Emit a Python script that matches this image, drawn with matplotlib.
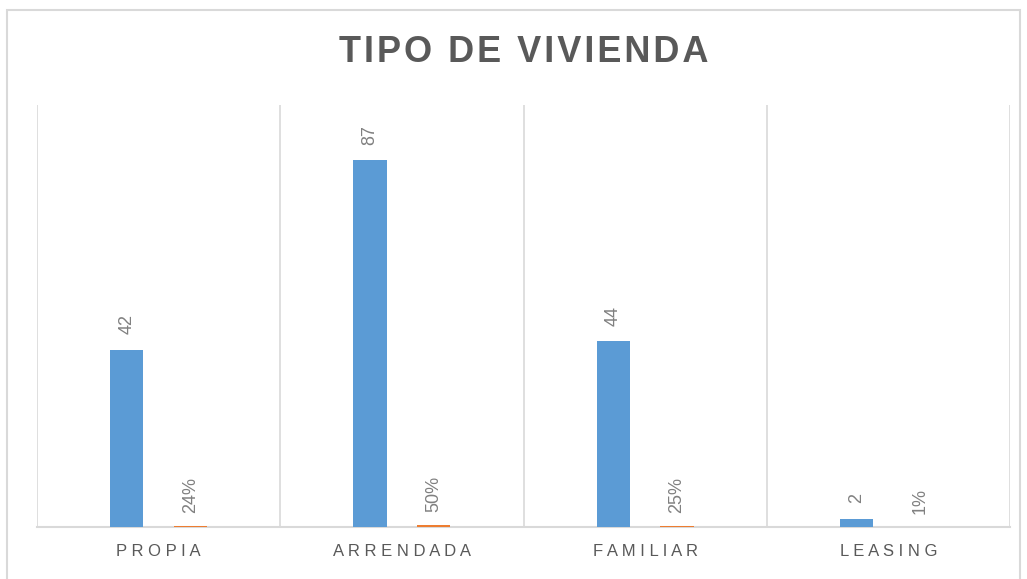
import numpy as np
import matplotlib.pyplot as plt
from matplotlib.patches import Rectangle

categorias = ["PROPIA", "ARRENDADA", "FAMILIAR", "LEASING"]
cantidad = [42, 87, 44, 2]
porcentaje = [0.24, 0.50, 0.25, 0.01]
etiquetas_pct = ["24%", "50%", "25%", "1%"]

AZUL = "#5B9BD5"
NARANJA = "#ED7D31"
GRIS_TEXTO = "#595959"
GRIS_VALOR = "#808080"
GRIS_LINEA = "#D9D9D9"

plt.rcParams['font.family'] = ['Liberation Sans', 'DejaVu Sans']


def espaciar(texto, sep=" "):
    return sep.join(texto)


fig = plt.figure(figsize=(10.27, 5.79), dpi=100)
fig.patches.append(Rectangle((7 / 1027, -0.01), (1020 - 7) / 1027, 1 - 10 / 579 + 0.01,
                             transform=fig.transFigure, fill=False,
                             edgecolor=GRIS_LINEA, linewidth=1.5))

ax = fig.add_axes([37 / 1027, 52 / 579, (1010 - 37) / 1027, (527 - 105) / 579])

x = np.arange(len(categorias))
ancho = 0.136
desp = 0.131
barras1 = ax.bar(x - desp, cantidad, ancho, color=AZUL, zorder=3)
barras2 = ax.bar(x + desp, porcentaje, ancho, color=NARANJA, zorder=3)

for b, v in zip(barras1, cantidad):
    ax.annotate(str(v), (b.get_x() + b.get_width() / 2, b.get_height()),
                xytext=(0, 11), textcoords="offset points", rotation=90,
                ha="center", va="bottom", fontsize=13, color=GRIS_VALOR)
for b, t in zip(barras2, etiquetas_pct):
    ax.annotate(t, (b.get_x() + b.get_width() / 2, b.get_height()),
                xytext=(0, 9.5), textcoords="offset points", rotation=90,
                ha="center", va="bottom", fontsize=13, color=GRIS_VALOR)

ax.set_xlim(-0.5, len(categorias) - 0.5)
ax.set_ylim(0, 100)
ax.set_yticks([])
ax.set_xticks(x)
ax.set_xticklabels([espaciar(c) for c in categorias], fontsize=12, color=GRIS_TEXTO)
ax.tick_params(axis="x", length=0, pad=12)

for xv in np.arange(-0.5, len(categorias), 1.0):
    ax.axvline(xv, color=GRIS_LINEA, linewidth=1.2, zorder=0)

for s in ["top", "right", "left"]:
    ax.spines[s].set_visible(False)
ax.spines["bottom"].set_color(GRIS_LINEA)
ax.spines["bottom"].set_linewidth(1.5)

fig.text(524 / 1027, 1 - 52 / 579, espaciar("TIPO DE VIVIENDA", "\u200a"),
         ha="center", va="center", fontsize=26, fontweight="bold", color=GRIS_TEXTO)

fig.savefig("out.png", dpi=100)
